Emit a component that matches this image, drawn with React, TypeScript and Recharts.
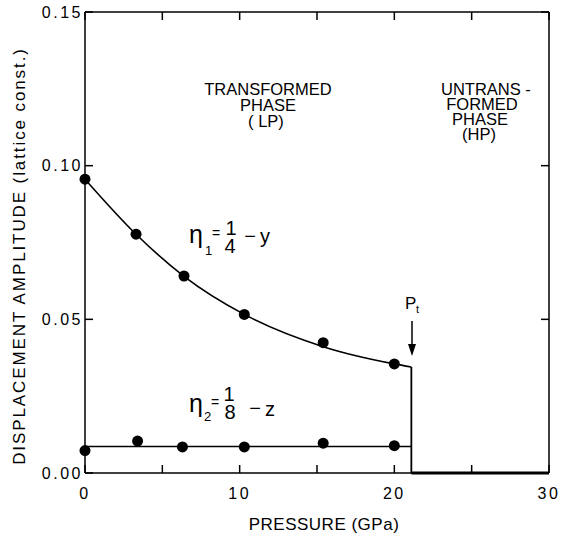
import { ComposedChart, Line, Scatter, XAxis, YAxis, Customized } from 'recharts';

// measured points, eta1 = 1/4 - y
const eta1Pressure = [0, 3.3, 6.4, 10.3, 15.4, 20.0];
const eta1Amp = [0.0956, 0.0777, 0.0641, 0.0516, 0.0424, 0.0355];

// measured points, eta2 = 1/8 - z
const eta2Pressure = [0, 3.4, 6.3, 10.3, 15.4, 20.0];
const eta2Amp = [0.0073, 0.0104, 0.0085, 0.0085, 0.0097, 0.0089];

// drawn guide curve through eta1
const fitPressure = [0, 3.3, 6.4, 10.3, 15.4, 20.0, 21.1];
const fitAmp = [0.0956, 0.0777, 0.064, 0.0516, 0.0411, 0.0355, 0.0345];

const Pt = 21.1;
const eta2Level = 0.0086;

const xTicks = [0, 5, 10, 15, 20, 25, 30];
const yTicks = [0, 0.05, 0.1, 0.15];

const toRows = (xs: number[], ys: number[]) => xs.map((p, i) => ({ p, v: ys[i] }));

const eta1Data = toRows(eta1Pressure, eta1Amp);
const eta2Data = toRows(eta2Pressure, eta2Amp);
const fitData = toRows(fitPressure, fitAmp);
const eta2Line = [{ p: 0, v: eta2Level }, { p: Pt, v: eta2Level }];
const dropLine = [{ p: Pt, v: fitAmp[fitAmp.length - 1] }, { p: Pt, v: 0 }];
const hpLine = [{ p: Pt, v: 0 }, { p: 30, v: 0 }];
// only used so the top / right frame axes have something bound to them
const frameData = [{ p: 0, v: 0 }, { p: 30, v: 0.15 }];

const FONT = '"Liberation Sans", Arial, sans-serif';
const tickStyle = { fill: '#000', fontSize: 16, fontFamily: FONT, letterSpacing: 2.5 };

const Dot = (props: any) => <circle cx={props.cx} cy={props.cy} r={5.5} fill="#000" />;

function Annotations() {
  const t = { fontFamily: FONT, fill: '#000' } as const;
  return (
    <g>
      <text x={19} y={256} transform="rotate(-90 19 256)" textAnchor="middle" dominantBaseline="central" fontSize={17} letterSpacing={1.9} {...t}>
        DISPLACEMENT  AMPLITUDE  (lattice const.)
      </text>
      <text x={324} y={530} textAnchor="middle" fontSize={17} letterSpacing={0.5} {...t}>PRESSURE (GPa)</text>

      <text fontSize={16.5} textAnchor="middle" {...t}>
        <tspan x={268} y={95}>TRANSFORMED</tspan>
        <tspan x={268} y={111}>PHASE</tspan>
        <tspan x={266} y={127}>( LP)</tspan>
      </text>
      <text fontSize={16.5} {...t}>
        <tspan x={441} y={95}>UNTRANS -</tspan>
        <tspan x={482} y={110} textAnchor="middle">FORMED</tspan>
        <tspan x={480} y={125} textAnchor="middle">PHASE</tspan>
        <tspan x={479} y={140} textAnchor="middle">(HP)</tspan>
      </text>

      {/* eta1 = 1/4 - y */}
      <text {...t}>
        <tspan x={189} y={243} fontSize={25}>η</tspan>
        <tspan x={205} y={255} fontSize={13}>1</tspan>
        <tspan x={212} y={238} fontSize={14}>=</tspan>
        <tspan x={231} y={235} fontSize={20} textAnchor="middle">1</tspan>
        <tspan x={230} y={253} fontSize={20} textAnchor="middle">4</tspan>
        <tspan x={250} y={243} fontSize={20} textAnchor="middle">−</tspan>
        <tspan x={260} y={243} fontSize={20}>y</tspan>
      </text>

      {/* eta2 = 1/8 - z */}
      <text {...t}>
        <tspan x={189} y={412} fontSize={25}>η</tspan>
        <tspan x={204} y={421} fontSize={13}>2</tspan>
        <tspan x={211} y={407} fontSize={14}>=</tspan>
        <tspan x={229} y={401} fontSize={20} textAnchor="middle">1</tspan>
        <tspan x={230} y={419} fontSize={20} textAnchor="middle">8</tspan>
        <tspan x={255} y={415} fontSize={20} textAnchor="middle">−</tspan>
        <tspan x={265} y={416} fontSize={20}>z</tspan>
      </text>

      {/* P_t arrow */}
      <text {...t}>
        <tspan x={405} y={309} fontSize={17}>P</tspan>
        <tspan x={416} y={313} fontSize={11}>t</tspan>
      </text>
      <line x1={412} y1={321} x2={412} y2={347} stroke="#000" strokeWidth={1.5} />
      <polygon points="408,344 416,344 412,356" fill="#000" />
    </g>
  );
}

export default function App() {
  return (
    <div style={{ position: 'absolute', left: 0, top: 0, background: '#fff' }}>
      <ComposedChart width={561} height={539} margin={{ top: 11, right: 11, bottom: 0, left: 0 }}>
        <XAxis
          xAxisId="b"
          type="number"
          dataKey="p"
          domain={[0, 30]}
          ticks={xTicks}
          tickFormatter={(v: number) => (v % 10 === 0 ? String(v) : '')}
          height={66}
          tickSize={-8}
          tickMargin={23}
          tick={tickStyle}
          stroke="#000"
          strokeWidth={1.5}
          interval={0}
        />
        <XAxis
          xAxisId="t"
          orientation="top"
          type="number"
          dataKey="p"
          domain={[0, 30]}
          ticks={xTicks}
          tickFormatter={() => ''}
          height={1}
          tickSize={-8}
          stroke="#000"
          strokeWidth={1.5}
          interval={0}
        />
        <YAxis
          yAxisId="l"
          type="number"
          dataKey="v"
          domain={[0, 0.15]}
          ticks={yTicks}
          tickFormatter={(v: number) => v.toFixed(2)}
          width={85}
          tickSize={-8}
          tickMargin={10}
          tick={tickStyle}
          stroke="#000"
          strokeWidth={1.5}
          interval={0}
        />
        <YAxis
          yAxisId="r"
          orientation="right"
          type="number"
          dataKey="v"
          domain={[0, 0.15]}
          ticks={yTicks}
          tickFormatter={() => ''}
          width={1}
          tickSize={-8}
          stroke="#000"
          strokeWidth={1.5}
          interval={0}
        />

        <Line xAxisId="t" yAxisId="r" data={frameData} dataKey="v" stroke="none" dot={false} isAnimationActive={false} />
        <Line xAxisId="b" yAxisId="l" data={fitData} dataKey="v" type="monotone" stroke="#000" strokeWidth={1.6} dot={false} isAnimationActive={false} />
        <Line xAxisId="b" yAxisId="l" data={eta2Line} dataKey="v" type="linear" stroke="#000" strokeWidth={1.6} dot={false} isAnimationActive={false} />
        <Line xAxisId="b" yAxisId="l" data={dropLine} dataKey="v" type="linear" stroke="#000" strokeWidth={1.8} dot={false} isAnimationActive={false} />
        <Line xAxisId="b" yAxisId="l" data={hpLine} dataKey="v" type="linear" stroke="#000" strokeWidth={3} dot={false} isAnimationActive={false} />
        <Scatter xAxisId="b" yAxisId="l" data={eta1Data} dataKey="v" shape={Dot} isAnimationActive={false} />
        <Scatter xAxisId="b" yAxisId="l" data={eta2Data} dataKey="v" shape={Dot} isAnimationActive={false} />

        <Customized component={Annotations} />
      </ComposedChart>
    </div>
  );
}
